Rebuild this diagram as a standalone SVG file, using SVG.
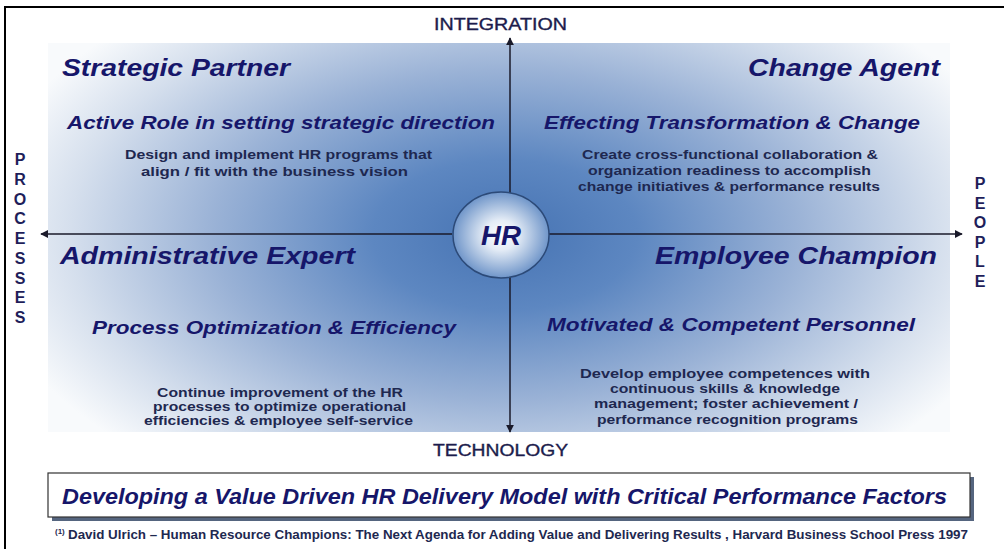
<svg xmlns="http://www.w3.org/2000/svg" width="1004" height="549" viewBox="0 0 1004 549">
  <defs>
    <radialGradient id="panelGrad" gradientUnits="userSpaceOnUse" cx="0" cy="0" r="1" gradientTransform="translate(505 235) scale(530 300)">
      <stop offset="0" stop-color="#4673b3"/>
      <stop offset="0.25" stop-color="#5d87c1"/>
      <stop offset="0.55" stop-color="#9ab2d6"/>
      <stop offset="0.82" stop-color="#d5dfed"/>
      <stop offset="1" stop-color="#f8fafc"/>
    </radialGradient>
    <radialGradient id="hubGrad" cx="0.5" cy="0.5" r="0.5">
      <stop offset="0" stop-color="#ffffff"/>
      <stop offset="0.35" stop-color="#e4ecf6"/>
      <stop offset="1" stop-color="#6f95c9"/>
    </radialGradient>
    <marker id="arrow" viewBox="0 0 10 10" refX="9" refY="5" markerWidth="8" markerHeight="8" markerUnits="userSpaceOnUse" orient="auto">
      <path d="M0,0 L10,5 L0,10 z" fill="#1a1a2a"/>
    </marker>
    <style>
      .title { font-family: "Liberation Sans", Arial, sans-serif; font-weight: bold; font-style: italic; font-size: 24px; fill: #16166a; }
      .sub { font-family: "Liberation Sans", Arial, sans-serif; font-weight: bold; font-style: italic; font-size: 19px; fill: #16166a; }
      .body { font-family: "Liberation Sans", Arial, sans-serif; font-weight: bold; font-size: 13.5px; fill: #1e2850; }
      .axis { font-family: "Liberation Sans", Arial, sans-serif; font-size: 16px; fill: #1c1c4c; stroke: #1c1c4c; stroke-width: 0.35; }
      .side { font-family: "Liberation Sans", Arial, sans-serif; font-weight: bold; font-size: 16px; fill: #1e1e5a; text-anchor: middle; }
      .line { stroke: #1a1a2a; stroke-width: 1.5; fill: none; }
    </style>
  </defs>

  <!-- page -->
  <rect x="0" y="0" width="1004" height="549" fill="#ffffff"/>
  <rect x="5" y="7" width="1010" height="560" fill="none" stroke="#000000" stroke-width="2"/>

  <!-- shaded quadrant panel -->
  <rect id="panel" x="48" y="43" width="902" height="389" fill="url(#panelGrad)"/>

  <!-- axes -->
  <g id="connectors">
    <line class="line" x1="452" y1="234" x2="41" y2="234" marker-end="url(#arrow)"/>
    <line class="line" x1="549" y1="234" x2="962" y2="234" marker-end="url(#arrow)"/>
    <line class="line" x1="510" y1="193" x2="510" y2="38" marker-end="url(#arrow)"/>
    <line class="line" x1="510" y1="277" x2="510" y2="432" marker-end="url(#arrow)"/>
  </g>

  <!-- axis labels -->
  <g id="axis-labels">
    <text class="axis" x="434" y="30" textLength="133" lengthAdjust="spacingAndGlyphs">INTEGRATION</text>
    <text class="axis" x="433" y="456" textLength="135" lengthAdjust="spacingAndGlyphs">TECHNOLOGY</text>
    <text class="side">
      <tspan x="20" y="165">P</tspan><tspan x="20" y="185">R</tspan><tspan x="20" y="205">O</tspan><tspan x="20" y="224">C</tspan><tspan x="20" y="244">E</tspan><tspan x="20" y="264">S</tspan><tspan x="20" y="284">S</tspan><tspan x="20" y="303">E</tspan><tspan x="20" y="323">S</tspan>
    </text>
    <text class="side">
      <tspan x="980" y="189">P</tspan><tspan x="980" y="209">E</tspan><tspan x="980" y="228">O</tspan><tspan x="980" y="248">P</tspan><tspan x="980" y="267">L</tspan><tspan x="980" y="287">E</tspan>
    </text>
  </g>

  <!-- centre hub -->
  <g id="hub">
    <ellipse cx="501" cy="235" rx="48" ry="43" fill="url(#hubGrad)" stroke="#2c4a78" stroke-width="1.5"/>
    <text x="481" y="245" font-family="Liberation Sans, Arial, sans-serif" font-weight="bold" font-style="italic" font-size="27" fill="#16166a" textLength="40" lengthAdjust="spacingAndGlyphs">HR</text>
  </g>

  <!-- quadrant: strategic partner -->
  <g id="strategic-partner">
    <text class="title" x="62" y="76" textLength="228" lengthAdjust="spacingAndGlyphs">Strategic Partner</text>
    <text class="sub" x="67" y="129" textLength="428" lengthAdjust="spacingAndGlyphs">Active Role in setting strategic direction</text>
    <text class="body" x="125" y="159" textLength="307" lengthAdjust="spacingAndGlyphs">Design and implement HR programs that</text>
    <text class="body" x="141" y="176" textLength="267" lengthAdjust="spacingAndGlyphs">align / fit with the  business vision</text>
  </g>

  <!-- quadrant: change agent -->
  <g id="change-agent">
    <text class="title" x="748" y="76" textLength="192" lengthAdjust="spacingAndGlyphs">Change Agent</text>
    <text class="sub" x="544" y="129" textLength="376" lengthAdjust="spacingAndGlyphs">Effecting Transformation &amp; Change</text>
    <text class="body" x="582" y="159" textLength="296" lengthAdjust="spacingAndGlyphs">Create cross-functional  collaboration &amp;</text>
    <text class="body" x="588" y="175" textLength="283" lengthAdjust="spacingAndGlyphs">organization readiness  to accomplish</text>
    <text class="body" x="578" y="191" textLength="302" lengthAdjust="spacingAndGlyphs">change initiatives  &amp; performance results</text>
  </g>

  <!-- quadrant: administrative expert -->
  <g id="administrative-expert">
    <text class="title" x="60" y="264" textLength="295" lengthAdjust="spacingAndGlyphs">Administrative Expert</text>
    <text class="sub" x="92" y="334" textLength="364" lengthAdjust="spacingAndGlyphs">Process Optimization &amp; Efficiency</text>
    <text class="body" x="157" y="397" textLength="246" lengthAdjust="spacingAndGlyphs">Continue improvement of the HR</text>
    <text class="body" x="153" y="411" textLength="253" lengthAdjust="spacingAndGlyphs">processes to optimize operational</text>
    <text class="body" x="144" y="425" textLength="269" lengthAdjust="spacingAndGlyphs">efficiencies &amp; employee self-service</text>
  </g>

  <!-- quadrant: employee champion -->
  <g id="employee-champion">
    <text class="title" x="655" y="264" textLength="282" lengthAdjust="spacingAndGlyphs">Employee Champion</text>
    <text class="sub" x="547" y="331" textLength="368" lengthAdjust="spacingAndGlyphs">Motivated &amp; Competent Personnel</text>
    <text class="body" x="580" y="378" textLength="290" lengthAdjust="spacingAndGlyphs">Develop  employee competences  with</text>
    <text class="body" x="610" y="393" textLength="230" lengthAdjust="spacingAndGlyphs">continuous skills &amp; knowledge</text>
    <text class="body" x="594" y="408" textLength="264" lengthAdjust="spacingAndGlyphs">management; foster achievement /</text>
    <text class="body" x="597" y="424" textLength="261" lengthAdjust="spacingAndGlyphs">performance recognition programs</text>
  </g>

  <!-- summary banner -->
  <g id="banner">
    <rect x="52" y="477" width="922" height="44" fill="#55657f"/>
    <rect x="48" y="473" width="922" height="44" fill="#ffffff" stroke="#333333" stroke-width="1.2"/>
    <text x="62" y="504" font-family="Liberation Sans, Arial, sans-serif" font-weight="bold" font-style="italic" font-size="22" fill="#16166a" textLength="885" lengthAdjust="spacingAndGlyphs">Developing a Value Driven HR Delivery Model with Critical Performance Factors</text>
  </g>

  <!-- source note -->
  <g id="source">
    <text x="55" y="534" font-family="Liberation Sans, Arial, sans-serif" font-weight="bold" font-size="8" fill="#1e2850">(1)</text>
    <text x="68" y="539" font-family="Liberation Sans, Arial, sans-serif" font-weight="bold" font-size="13" fill="#1e2850" textLength="900" lengthAdjust="spacingAndGlyphs">David Ulrich – Human Resource Champions: The Next Agenda for Adding Value and Delivering Results , Harvard Business School Press 1997</text>
  </g>
</svg>
